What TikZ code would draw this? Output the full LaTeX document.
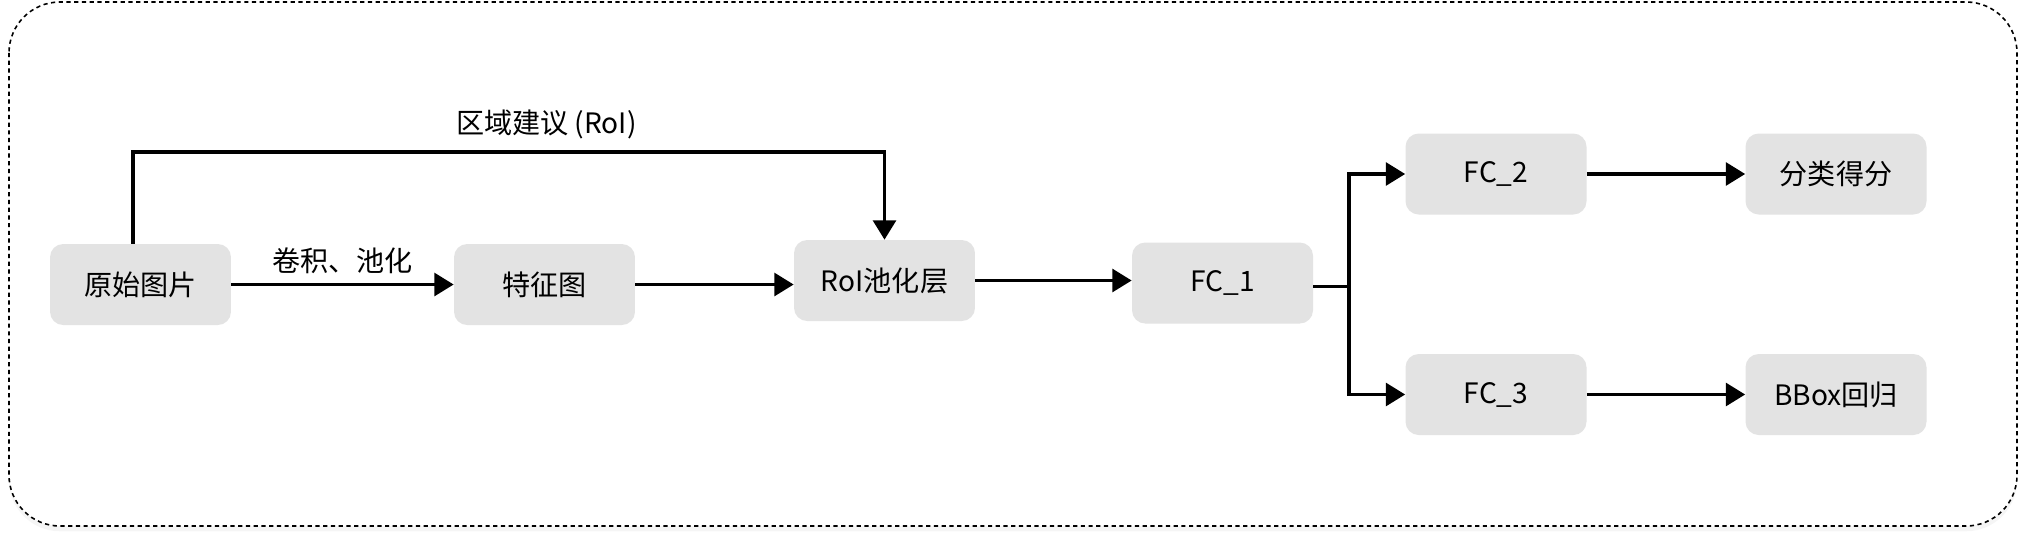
\documentclass[tikz,border=0pt]{standalone}
\usepackage{fontspec}
\setmainfont{Noto Sans CJK SC}
\usepackage{tikz}
\usetikzlibrary{arrows.meta, shadows}

\definecolor{boxgray}{RGB}{227,227,227}

\begin{document}
\begin{tikzpicture}[x=0.02cm, y=-0.02cm,
        block/.style={rectangle, rounded corners=7.5pt, fill=boxgray, minimum width=3.62cm, minimum height=1.62cm, inner sep=2pt, font=\fontsize{16}{19}\selectfont},
        flow/.style={-{Triangle[length=11pt, width=13pt]}, line width=1.9pt},
        tag/.style={font=\fontsize{16}{19}\selectfont}
    ]
    \useasboundingbox (0,0) rectangle (2024,542);

    % Frame
    \draw[dash pattern=on 2.4pt off 2pt, line width=0.9pt, rounded corners=29pt, fill=white,
        drop shadow={shadow xshift=0pt, shadow yshift=-3pt, opacity=0.08}] (9,2) rectangle (2017,526);

    % Blocks
    \node[block] (image) at (140.5, 284.5) {原始图片};
    \node[block] (feature) at (544.5, 284.5) {特征图};
    \node[block] (roipool) at (884.5, 280.5) {RoI池化层};
    \node[block] (fc1) at (1222.5, 283) {FC\_1};
    \node[block] (fc2) at (1496, 174) {FC\_2};
    \node[block] (fc3) at (1496, 394.5) {FC\_3};
    \node[block] (score) at (1836, 174) {分类得分};
    \node[block] (bbox) at (1836, 394.5) {BBox回归};

    % Main path
    \draw[flow] (image) -- node[tag, above, yshift=2pt] {卷积、池化} (feature);
    \draw[flow] (feature.east) -- (feature.east -| roipool.west);
    \draw[flow] (roipool.east) -- (roipool.east -| fc1.west);

    % Region proposals
    \coordinate (up) at (133, 152);
    \draw[flow] (image.north -| up) -- (up) -- node[tag, above, pos=0.55, yshift=3pt] {区域建议 (RoI)} (up -| roipool) -- (roipool.north);

    % Branches
    \coordinate (split) at (1349, 286.5);
    \draw[line width=1.9pt] (fc1.east |- split) -- (split);
    \draw[flow] (split) |- (fc2.west);
    \draw[flow] (split) |- (fc3.west);
    \draw[flow] (fc2) -- (score);
    \draw[flow] (fc3) -- (bbox);

\end{tikzpicture}
\end{document}
